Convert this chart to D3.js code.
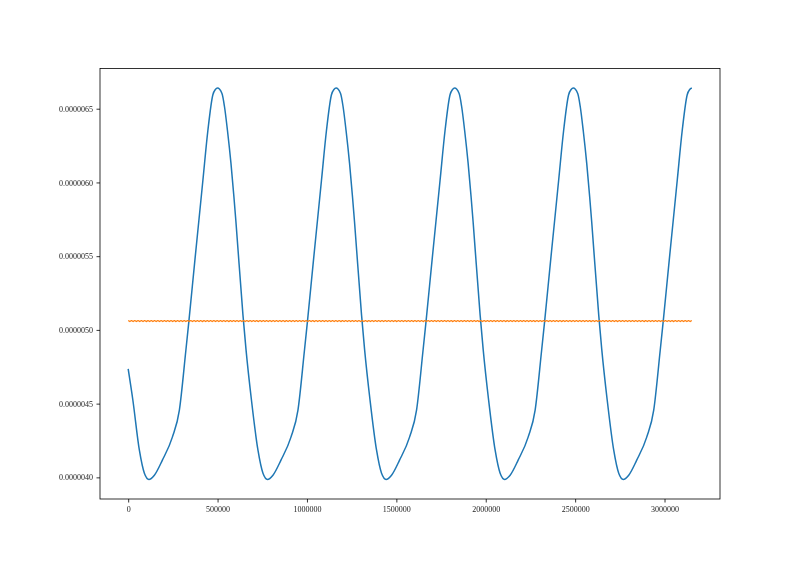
<!DOCTYPE html>
<html>
<head>
<meta charset="utf-8">
<script src="https://cdn.jsdelivr.net/npm/d3@7"></script>
<style>
  html, body { margin: 0; padding: 0; background: #fff; }
  svg { display: block; }
  .tick text { font-family: "Liberation Serif", "DejaVu Serif", serif; font-size: 8px; }
</style>
</head>
<body>
<svg id="chart" width="800" height="571"></svg>
<script>
// ---- data (values in units of 1e-6) ----
const blueTime = [
  0, 26286, 62639, 90603, 115771,
  146531, 191274, 247202, 286351, 322705, 339483, 373040, 395411, 417782, 445746, 473710, 487692, 499437,
  524605, 538587, 555365, 574940, 591718, 602904, 642053, 658832, 689592, 725945, 753909, 779077,
  809837, 854580, 910508, 949657, 986011, 1002789, 1036346, 1058717, 1081088, 1109052, 1137016, 1150998, 1162743,
  1187911, 1201893, 1218671, 1238246, 1255024, 1266210, 1305359, 1322138, 1352898, 1389251, 1417215, 1442383,
  1473143, 1517886, 1573814, 1612963, 1649317, 1666095, 1699652, 1722023, 1744394, 1772358, 1800322, 1814304, 1826049,
  1851217, 1865199, 1881977, 1901552, 1918330, 1929516, 1968665, 1985444, 2016204, 2052557, 2080521, 2105689,
  2136449, 2181192, 2237120, 2276269, 2312623, 2329401, 2362958, 2385329, 2407700, 2435664, 2463628, 2477610, 2489355,
  2514523, 2528505, 2545283, 2564858, 2581636, 2592822, 2631971, 2648750, 2679510, 2715863, 2743827, 2768995,
  2799755, 2844498, 2900426, 2939575, 2975929, 2992707, 3026264, 3048635, 3071006, 3098970, 3126934, 3140916, 3152661
];
const blueValue = [
  4.735, 4.523, 4.184, 4.028, 3.986,
  4.015, 4.117, 4.273, 4.456, 4.862, 5.058, 5.472, 5.742, 6.013, 6.352, 6.595, 6.630, 6.640,
  6.603, 6.515, 6.352, 6.129, 5.898, 5.730, 5.100, 4.870, 4.523, 4.184, 4.028, 3.986,
  4.015, 4.117, 4.273, 4.456, 4.862, 5.058, 5.472, 5.742, 6.013, 6.352, 6.595, 6.630, 6.640,
  6.603, 6.515, 6.352, 6.129, 5.898, 5.730, 5.100, 4.870, 4.523, 4.184, 4.028, 3.986,
  4.015, 4.117, 4.273, 4.456, 4.862, 5.058, 5.472, 5.742, 6.013, 6.352, 6.595, 6.630, 6.640,
  6.603, 6.515, 6.352, 6.129, 5.898, 5.730, 5.100, 4.870, 4.523, 4.184, 4.028, 3.986,
  4.015, 4.117, 4.273, 4.456, 4.862, 5.058, 5.472, 5.742, 6.013, 6.352, 6.595, 6.630, 6.640,
  6.603, 6.515, 6.352, 6.129, 5.898, 5.730, 5.100, 4.870, 4.523, 4.184, 4.028, 3.986,
  4.015, 4.117, 4.273, 4.456, 4.862, 5.058, 5.472, 5.742, 6.013, 6.352, 6.595, 6.630, 6.640
];
// orange series: sampled at a uniform time step over the same span
const orangeStart = 0;
const orangeEnd = 3152661;
const orangeValue = [
  5.0635,5.0565,5.0635,5.0565,5.0635,5.0565,5.0635,5.0565,5.0635,5.0565,5.0635,5.0565,5.0635,5.0565,5.0635,5.0565,5.0635,5.0565,5.0635,5.0565,
  5.0635,5.0565,5.0635,5.0565,5.0635,5.0565,5.0635,5.0565,5.0635,5.0565,5.0635,5.0565,5.0635,5.0565,5.0635,5.0565,5.0635,5.0565,5.0635,5.0565,
  5.0635,5.0565,5.0635,5.0565,5.0635,5.0565,5.0635,5.0565,5.0635,5.0565,5.0635,5.0565,5.0635,5.0565,5.0635,5.0565,5.0635,5.0565,5.0635,5.0565,
  5.0635,5.0565,5.0635,5.0565,5.0635,5.0565,5.0635,5.0565,5.0635,5.0565,5.0635,5.0565,5.0635,5.0565,5.0635,5.0565,5.0635,5.0565,5.0635,5.0565,
  5.0635,5.0565,5.0635,5.0565,5.0635,5.0565,5.0635,5.0565,5.0635,5.0565,5.0635,5.0565,5.0635,5.0565,5.0635,5.0565,5.0635,5.0565,5.0635,5.0565,
  5.0635,5.0565,5.0635,5.0565,5.0635,5.0565,5.0635,5.0565,5.0635,5.0565,5.0635,5.0565,5.0635,5.0565,5.0635,5.0565,5.0635,5.0565,5.0635,5.0565,
  5.0635,5.0565,5.0635,5.0565,5.0635,5.0565,5.0635,5.0565,5.0635,5.0565,5.0635,5.0565,5.0635,5.0565,5.0635,5.0565,5.0635,5.0565,5.0635,5.0565,
  5.0635,5.0565,5.0635,5.0565,5.0635,5.0565,5.0635,5.0565,5.0635,5.0565,5.0635,5.0565,5.0635,5.0565,5.0635,5.0565,5.0635,5.0565,5.0635,5.0565,
  5.0635,5.0565,5.0635,5.0565,5.0635,5.0565,5.0635,5.0565,5.0635,5.0565,5.0635,5.0565,5.0635,5.0565,5.0635,5.0565,5.0635,5.0565,5.0635,5.0565,
  5.0635,5.0565,5.0635,5.0565,5.0635,5.0565,5.0635,5.0565,5.0635,5.0565,5.0635,5.0565,5.0635,5.0565,5.0635,5.0565,5.0635,5.0565,5.0635,5.0565,
  5.0635,5.0565,5.0635,5.0565,5.0635,5.0565,5.0635,5.0565,5.0635,5.0565,5.0635,5.0565,5.0635,5.0565,5.0635,5.0565,5.0635,5.0565,5.0635,5.0565,
  5.0635,5.0565,5.0635,5.0565,5.0635,5.0565,5.0635,5.0565,5.0635,5.0565,5.0635,5.0565,5.0635,5.0565,5.0635,5.0565,5.0635,5.0565,5.0635,5.0565,
  5.0635,5.0565,5.0635,5.0565,5.0635,5.0565,5.0635,5.0565,5.0635,5.0565,5.0635,5.0565,5.0635,5.0565,5.0635,5.0565,5.0635,5.0565,5.0635,5.0565,
  5.0635,5.0565,5.0635,5.0565,5.0635,5.0565,5.0635,5.0565,5.0635,5.0565,5.0635,5.0565,5.0635,5.0565,5.0635,5.0565,5.0635,5.0565,5.0635,5.0565,
  5.0635,5.0565,5.0635,5.0565,5.0635,5.0565,5.0635,5.0565,5.0635,5.0565,5.0635,5.0565,5.0635,5.0565,5.0635,5.0565,5.0635,5.0565,5.0635,5.0565,
  5.0635,5.0565,5.0635,5.0565,5.0635,5.0565,5.0635,5.0565,5.0635,5.0565,5.0635,5.0565,5.0635,5.0565,5.0635,5.0565,5.0635,5.0565,5.0635,5.0565,
  5.0635,5.0565,5.0635,5.0565,5.0635,5.0565,5.0635,5.0565,5.0635,5.0565,5.0635,5.0565,5.0635,5.0565,5.0635,5.0565,5.0635,5.0565,5.0635,5.0565,
  5.0635,5.0565,5.0635
];
const xTicks = [0, 500000, 1000000, 1500000, 2000000, 2500000, 3000000];
const xTickLabels = ["0", "500000", "1000000", "1500000", "2000000", "2500000", "3000000"];
const yTicks = [4.0, 4.5, 5.0, 5.5, 6.0, 6.5];
const yTickLabels = ["0.0000040", "0.0000045", "0.0000050", "0.0000055", "0.0000060", "0.0000065"];

// ---- layout ----
const plot = { left: 100, right: 720, top: 68.5, bottom: 499 };

const blue = blueTime.map((t, i) => ({ t, v: blueValue[i] }));
const oStep = (orangeEnd - orangeStart) / (orangeValue.length - 1);
const orange = orangeValue.map((v, i) => ({ t: orangeStart + i * oStep, v }));

const all = blue.concat(orange);
const [tMin, tMax] = d3.extent(all, d => d.t);
const [vMin, vMax] = d3.extent(all, d => d.v);
const tPad = (tMax - tMin) * 0.05, vPad = (vMax - vMin) * 0.05;

const x = d3.scaleLinear().domain([tMin - tPad, tMax + tPad]).range([plot.left, plot.right]);
const y = d3.scaleLinear().domain([vMin - vPad, vMax + vPad]).range([plot.bottom, plot.top]);

const svg = d3.select("#chart");

// grayscale filter for the axis text (avoids coloured sub-pixel fringes)
const f = svg.append("defs").append("filter").attr("id", "gray")
  .attr("x", "-10%").attr("y", "-10%").attr("width", "120%").attr("height", "120%");
f.append("feColorMatrix").attr("type", "saturate").attr("values", 0);

svg.append("path")
  .datum(blue)
  .attr("fill", "none")
  .attr("stroke", "#1f77b4")
  .attr("stroke-width", 1.5)
  .attr("stroke-linejoin", "round")
  .attr("d", d3.line().x(d => x(d.t)).y(d => y(d.v)).curve(d3.curveMonotoneX));

svg.append("path")
  .datum(orange)
  .attr("fill", "none")
  .attr("stroke", "#ff7f0e")
  .attr("stroke-width", 1.3)
  .attr("stroke-linejoin", "round")
  .attr("d", d3.line().x(d => x(d.t)).y(d => y(d.v)));

// axes
const xAxis = d3.axisBottom(x).tickValues(xTicks)
  .tickFormat((d, i) => xTickLabels[i]).tickSize(3.5).tickPadding(3.5);
const yAxis = d3.axisLeft(y).tickValues(yTicks)
  .tickFormat((d, i) => yTickLabels[i]).tickSize(3.5).tickPadding(3.5);

const gx = svg.append("g").attr("filter", "url(#gray)").attr("transform", `translate(0,${plot.bottom})`).call(xAxis);
const gy = svg.append("g").attr("filter", "url(#gray)").attr("transform", `translate(${plot.left},0)`).call(yAxis);
[gx, gy].forEach(g => {
  g.select(".domain").remove();
  g.selectAll(".tick line").attr("stroke", "#000").attr("stroke-width", 0.8);
  g.selectAll(".tick text").attr("fill", "#222");
});

// frame
svg.append("rect")
  .attr("x", plot.left).attr("y", plot.top)
  .attr("width", plot.right - plot.left).attr("height", plot.bottom - plot.top)
  .attr("fill", "none").attr("stroke", "#000").attr("stroke-width", 0.8);
</script>
</body>
</html>
